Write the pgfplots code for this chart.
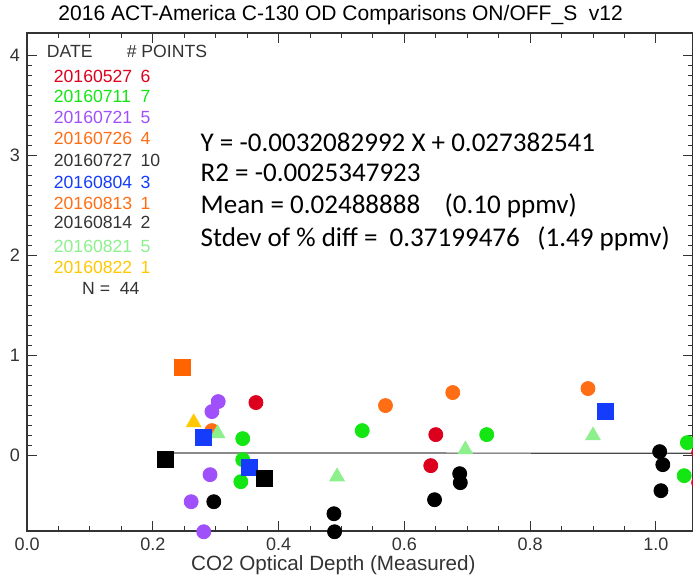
\documentclass[border=0pt]{standalone}
\usepackage{pgfplots}
\pgfplotsset{compat=1.18}
\usepackage{fontspec}
\setmainfont{Liberation Sans}
\newfontfamily\calibri{Carlito}

\definecolor{cRed}{RGB}{220,0,30}
\definecolor{cGreen}{RGB}{20,230,20}
\definecolor{cPurple}{RGB}{160,80,250}
\definecolor{cOrange}{RGB}{255,110,20}
\definecolor{cBlue}{RGB}{20,60,250}
\definecolor{cOrangeSq}{RGB}{255,100,0}
\definecolor{cLtGreen}{RGB}{140,240,140}
\definecolor{cYellow}{RGB}{255,200,0}

\begin{document}
\begin{tikzpicture}
\begin{axis}[
  scale only axis,
  width=332.5pt, height=248.5pt,
  xmin=0, xmax=1.059, ymin=-0.75, ymax=4.22,
  xtick={0,0.2,0.4,0.6,0.8,1.0},
  ytick={0,1,2,3,4},
  minor x tick num=3, minor y tick num=9,
  xticklabel style={/pgf/number format/.cd,fixed,fixed zerofill,precision=1},
  /pgf/number format/assume math mode=true,
  tick align=inside,
  major tick length=5pt, minor tick length=2.5pt,
  tick style={black!80, line width=0.5pt},
  ticklabel style={font=\fontsize{9}{10}\selectfont, text=black!80},
  xlabel={CO2 Optical Depth (Measured)},
  xlabel style={at={(0.46,0)}, anchor=north, font=\fontsize{10.3}{12}\selectfont, text=black!80, yshift=-9pt},
  title={2016 ACT-America C-130 OD Comparisons ON/OFF\_S\ \ v12},
  title style={at={(0.471,1)}, anchor=south, font=\fontsize{10.5}{12}\selectfont, yshift=-5.5pt},
  axis line style={line width=0.8pt, black!80},
  clip=false,
]
\coordinate (bl) at (rel axis cs:0,0);
\coordinate (tr) at (rel axis cs:1,1);

% regression line
\addplot[black!70, line width=0.6pt] coordinates {(0.22,0.027) (1.059,0.024)};

% 20160527
\addplot[only marks, mark=*, mark size=3.5pt, cRed] coordinates {
(0.364,0.53) (0.650,0.21) (0.642,-0.10) (1.068,0.03) (1.068,-0.27)};
% 20160711
\addplot[only marks, mark=*, mark size=3.5pt, cGreen] coordinates {
(0.343,0.17) (0.343,-0.04) (0.340,-0.26) (0.533,0.25) (0.731,0.21) (1.050,0.13) (1.045,-0.20)};
% 20160721
\addplot[only marks, mark=*, mark size=3.5pt, cPurple] coordinates {
(0.304,0.54) (0.294,0.44) (0.291,-0.19) (0.261,-0.46) (0.281,-0.76)};
% 20160726
\addplot[only marks, mark=*, mark size=3.5pt, cOrange] coordinates {
(0.294,0.25) (0.570,0.50) (0.677,0.63) (0.892,0.67)};
% 20160727
\addplot[only marks, mark=*, mark size=3.5pt, black] coordinates {
(0.297,-0.46) (0.488,-0.58) (0.489,-0.76) (0.648,-0.44) (0.688,-0.18) (0.689,-0.27)
(1.006,0.04) (1.011,-0.09) (1.008,-0.35)};
% 20160821
\addplot[only marks, mark=triangle*, mark size=4.2pt, cLtGreen] coordinates {
(0.303,0.22) (0.493,-0.21) (0.697,0.06) (0.900,0.20)};
% 20160822
\addplot[only marks, mark=triangle*, mark size=4.2pt, cYellow] coordinates {
(0.265,0.33)};
% 20160804
\addplot[only marks, mark=square*, mark size=4pt, cBlue] coordinates {
(0.281,0.18) (0.354,-0.12) (0.919,0.44)};
% 20160813
\addplot[only marks, mark=square*, mark size=4pt, cOrangeSq] coordinates {
(0.247,0.88)};
% 20160814
\addplot[only marks, mark=square*, mark size=4pt, black] coordinates {
(0.220,-0.04) (0.377,-0.23)};

% legend text
\begin{scope}[every node/.style={anchor=west, inner sep=0pt, font=\fontsize{8.8}{10}\selectfont}]
\node[text=black!80] at (axis cs:0.031,4.033) {DATE};
\node[text=black!80] at (axis cs:0.158,4.033) {\# POINTS};
\node[text=cRed]     at (axis cs:0.042,3.790) {20160527};
\node[text=cRed]     at (axis cs:0.180,3.790) {6};
\node[text=cGreen]   at (axis cs:0.042,3.583) {20160711};
\node[text=cGreen]   at (axis cs:0.180,3.583) {7};
\node[text=cPurple]  at (axis cs:0.042,3.377) {20160721};
\node[text=cPurple]  at (axis cs:0.180,3.377) {5};
\node[text=cOrange]  at (axis cs:0.042,3.167) {20160726};
\node[text=cOrange]  at (axis cs:0.180,3.167) {4};
\node[text=black!80] at (axis cs:0.042,2.943) {20160727};
\node[text=black!80] at (axis cs:0.180,2.943) {10};
\node[text=cBlue]    at (axis cs:0.042,2.733) {20160804};
\node[text=cBlue]    at (axis cs:0.180,2.733) {3};
\node[text=cOrange]  at (axis cs:0.042,2.523) {20160813};
\node[text=cOrange]  at (axis cs:0.180,2.523) {1};
\node[text=black!80] at (axis cs:0.042,2.327) {20160814};
\node[text=black!80] at (axis cs:0.180,2.327) {2};
\node[text=cLtGreen] at (axis cs:0.042,2.090) {20160821};
\node[text=cLtGreen] at (axis cs:0.180,2.090) {5};
\node[text=cYellow]  at (axis cs:0.042,1.883) {20160822};
\node[text=cYellow]  at (axis cs:0.180,1.883) {1};
\node[text=black!80] at (axis cs:0.087,1.667) {N =\ \ 44};
\end{scope}

% statistics
\begin{scope}[every node/.style={anchor=west, inner sep=0pt, font=\calibri\fontsize{13.5}{15}\selectfont}]
\node at (axis cs:0.2755,3.133) {Y = -0.0032082992 X + 0.027382541};
\node at (axis cs:0.2755,2.827) {R2 = -0.0025347923};
\node at (axis cs:0.2755,2.493) {Mean = 0.02488888\hspace{0.9em}(0.10 ppmv)};
\node at (axis cs:0.2755,2.167) {Stdev of \% diff =\ \ 0.37199476\hspace{0.65em}(1.49 ppmv)};
\end{scope}
\end{axis}
\pgfresetboundingbox
\path[use as bounding box] ([shift={(-13.5pt,-23pt)}]bl) rectangle ([shift={(0pt,16.5pt)}]tr);
\end{tikzpicture}
\end{document}
